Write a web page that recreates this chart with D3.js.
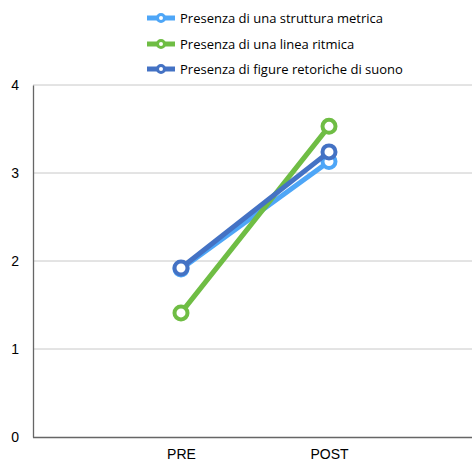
<!DOCTYPE html>
<html>
<head>
<meta charset="utf-8">
<script src="https://cdn.jsdelivr.net/npm/d3@7.9.0/dist/d3.min.js"></script>
<style>
  body { margin: 0; background: #fff; }
  svg { display: block; }
</style>
</head>
<body>
<svg id="chart" width="472" height="462"></svg>
<script>
// data
const categories = ['', 'PRE', 'POST', ' '];
const seriesNames = [
  'Presenza di una struttura metrica',
  'Presenza di una linea ritmica',
  'Presenza di figure retoriche di suono'
];
const metrica = [1.91, 3.13];
const ritmica = [1.41, 3.53];
const figure = [1.92, 3.24];
const yTicks = [0, 1, 2, 3, 4];

const colors = ['#4ea6f7', '#6fbd44', '#4472c4'];
const seriesData = [metrica, ritmica, figure];

const svg = d3.select('#chart');
const plotLeft = 33, plotRight = 477, plotTop = 85, plotBottom = 437;

const x = d3.scalePoint().domain(categories).range([plotLeft, plotRight]);
const y = d3.scaleLinear().domain([0, 4]).range([plotBottom, plotTop]);

// gridlines
svg.append('g')
  .selectAll('line')
  .data(yTicks.filter(d => d > 0))
  .join('line')
  .attr('x1', plotLeft).attr('x2', 472)
  .attr('y1', d => y(d)).attr('y2', d => y(d))
  .attr('stroke', '#c8c8c8').attr('stroke-width', 1);

// y axis
const yAxis = svg.append('g')
  .attr('transform', `translate(${plotLeft},0)`)
  .call(d3.axisLeft(y).tickValues(yTicks).tickSize(0).tickPadding(14).tickFormat(d3.format('d')));
yAxis.select('.domain').attr('stroke', '#666').attr('stroke-width', 1.3);
yAxis.selectAll('text')
  .attr('font-family', 'Liberation Sans, Arial, sans-serif')
  .attr('font-size', 14).attr('fill', '#000');

// x axis
const xAxis = svg.append('g')
  .attr('transform', `translate(0,${plotBottom})`)
  .call(d3.axisBottom(x).tickSize(0).tickPadding(12));
xAxis.select('.domain').attr('d', `M${plotLeft},0.5H472`).attr('stroke', '#666').attr('stroke-width', 1.3);
xAxis.selectAll('text')
  .attr('font-family', 'Liberation Sans, Arial, sans-serif')
  .attr('font-size', 14).attr('fill', '#000');

// lines
const pts = ['PRE', 'POST'];
const line = d3.line().x((d, i) => x(pts[i])).y(d => y(d));

seriesData.forEach((vals, s) => {
  const g = svg.append('g');
  g.append('path')
    .datum(vals)
    .attr('d', line)
    .attr('fill', 'none')
    .attr('stroke', colors[s])
    .attr('stroke-width', 5)
    .attr('stroke-linecap', 'round');
  g.selectAll('circle')
    .data(vals)
    .join('circle')
    .attr('cx', (d, i) => x(pts[i]))
    .attr('cy', d => y(d))
    .attr('r', 6.5)
    .attr('fill', '#fff')
    .attr('stroke', colors[s])
    .attr('stroke-width', 4);
});

// legend
const legend = svg.append('g');
const legendY = [18, 44, 69];
seriesNames.forEach((name, i) => {
  const row = legend.append('g').attr('transform', `translate(147,${legendY[i]})`);
  row.append('line')
    .attr('x1', 0).attr('x2', 28).attr('y1', 0).attr('y2', 0)
    .attr('stroke', colors[i]).attr('stroke-width', 5);
  row.append('circle')
    .attr('cx', 14).attr('cy', 0).attr('r', 3.5)
    .attr('fill', '#fff').attr('stroke', colors[i]).attr('stroke-width', 3);
  row.append('text')
    .attr('x', 33).attr('y', 0).attr('dy', '0.35em')
    .attr('font-family', 'Open Sans, sans-serif')
    .attr('font-size', 13).attr('fill', '#000')
    .text(name);
});
</script>
</body>
</html>
